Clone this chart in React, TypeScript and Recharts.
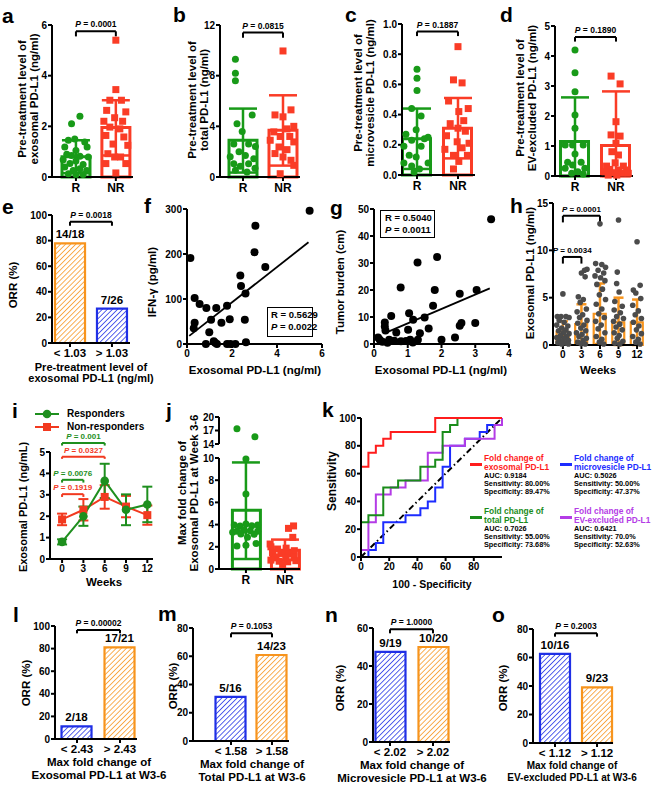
import React from "react";
import { ComposedChart, Bar, Scatter, Line, XAxis, YAxis, ReferenceLine, ErrorBar, Cell, LabelList } from "recharts";

type Pt = [number, number];

const GREEN = "#189a18";
const RED = "#fa3c26";
const ORANGE = "#f7941d";
const BLUE = "#1f2fe6";
const GRAY = "#4b4b4b";
const ROC_RED = "#ff1c1c";
const ROC_GREEN = "#1a8c1a";
const ROC_BLUE = "#1c2cff";
const ROC_PURPLE = "#b43ce6";
const I_GREEN = "#1e8f1e";
const I_RED = "#f2391f";

const groups = ["R", "NR"];

// a: exosomal PD-L1 before treatment
const aR: Pt[] = [[1.1, 2.4], [0.89, 2.1], [0.81, 1.45], [0.97, 1.5], [1.22, 1.38], [0.72, 1.18], [1.28, 1.18], [1.0, 1.05], [0.77, 0.9], [0.89, 0.85], [1.1, 0.82], [1.31, 0.79], [0.68, 0.68], [1.0, 0.63], [0.85, 0.53], [1.18, 0.49], [0.72, 0.39], [1.1, 0.33], [0.93, 0.26], [1.27, 0.26], [0.81, 0.13], [1.0, 0.1], [1.18, 0.1]];
const aNR: Pt[] = [[2.0, 5.4], [2.0, 3.45], [1.85, 3.03], [2.14, 3.03], [1.77, 2.63], [2.25, 2.57], [1.97, 2.34], [1.7, 2.2], [2.17, 2.2], [1.85, 1.97], [2.1, 1.9], [1.75, 1.64], [2.2, 1.58], [1.93, 1.3], [2.3, 1.25], [1.8, 0.92], [2.12, 0.79], [1.97, 0.79], [1.75, 0.53], [2.25, 0.53], [2.0, 0.16]];
const aMean = [0.8, 1.95];
const aErr: Pt[] = [[0.65, 0.65], [1.1, 1.08]];

// b: total PD-L1
const bR: Pt[] = [[0.81, 9.3], [0.81, 8.2], [0.81, 7.6], [1.23, 4.9], [0.85, 4.2], [0.98, 3.6], [0.77, 2.6], [1.14, 2.6], [1.31, 2.4], [0.9, 2.0], [0.68, 1.6], [1.06, 1.7], [1.27, 1.45], [0.77, 1.05], [0.93, 0.85], [1.14, 1.05], [1.3, 0.7], [0.81, 0.53], [1.1, 0.4]];
const bNR: Pt[] = [[2.0, 9.95], [2.2, 5.3], [1.8, 4.9], [2.0, 4.75], [2.27, 4.0], [2.1, 3.8], [1.77, 3.56], [1.93, 3.2], [2.17, 3.2], [1.68, 2.9], [2.27, 2.77], [1.9, 2.37], [2.1, 2.16], [1.8, 1.85], [2.0, 1.58], [2.2, 1.32], [2.27, 0.92], [1.93, 0.26]];
const bMean = [2.9, 3.7];
const bErr: Pt[] = [[2.55, 2.5], [2.8, 2.75]];

// c: microvesicle PD-L1
const cR: Pt[] = [[1.0, 0.7], [1.0, 0.64], [1.0, 0.56], [0.87, 0.44], [1.1, 0.39], [0.98, 0.3], [0.73, 0.27], [1.27, 0.25], [1.18, 0.24], [0.87, 0.23], [0.68, 0.19], [1.1, 0.19], [0.81, 0.13], [0.98, 0.12], [1.27, 0.08], [0.68, 0.08], [0.87, 0.06], [1.06, 0.04], [0.93, 0.02]];
const cNR: Pt[] = [[2.0, 0.85], [1.89, 0.63], [2.1, 0.61], [1.77, 0.49], [2.25, 0.44], [2.02, 0.42], [2.14, 0.36], [1.81, 0.34], [2.0, 0.31], [2.18, 0.29], [1.72, 0.26], [1.98, 0.22], [2.27, 0.21], [1.68, 0.17], [2.1, 0.18], [1.89, 0.13], [2.23, 0.13], [2.02, 0.09], [1.89, 0.04]];
const cMean = [0.24, 0.31];
const cErr: Pt[] = [[0.2, 0.2], [0.2, 0.2]];

// d: EV-excluded PD-L1
const dR: Pt[] = [[1.0, 4.2], [1.0, 3.44], [1.0, 2.81], [1.0, 2.03], [1.0, 1.59], [0.94, 1.03], [1.2, 1.03], [0.76, 1.03], [1.0, 0.73], [0.82, 0.46], [1.15, 0.46], [0.94, 0.37], [0.76, 0.26], [1.24, 0.26], [1.07, 0.14], [0.92, 0.09], [1.2, 0.07]];
const dNR: Pt[] = [[1.88, 3.33], [2.1, 3.07], [2.0, 1.81], [1.88, 1.37], [2.1, 1.33], [2.0, 1.09], [1.9, 0.81], [2.06, 0.7], [1.98, 0.44], [1.77, 0.33], [2.18, 0.33], [1.85, 0.22], [2.06, 0.2], [2.26, 0.2], [1.73, 0.14], [1.93, 0.11], [2.14, 0.09], [2.3, 0.09], [2.02, 0.03], [1.81, 0.03]];
const dMean = [1.15, 1.02];
const dErr: Pt[] = [[1.15, 1.47], [1.02, 1.8]];

// ORR panels
const eCats = ["< 1.03", "> 1.03"];
const eORR = [77.8, 26.9];
const eFrac = ["14/18", "7/26"];
const lCats = ["< 2.43", "> 2.43"];
const lORR = [11.1, 81.0];
const lFrac = ["2/18", "17/21"];
const mCats = ["< 1.58", "> 1.58"];
const mORR = [31.3, 60.9];
const mFrac = ["5/16", "14/23"];
const nCats = ["< 2.02", "> 2.02"];
const nORR = [47.4, 50.0];
const nFrac = ["9/19", "10/20"];
const oCats = ["< 1.12", "> 1.12"];
const oORR = [62.5, 39.1];
const oFrac = ["10/16", "9/23"];

// f: IFN-gamma vs exosomal PD-L1
const fPts: Pt[] = [[0.15, 191], [0.34, 102], [0.34, 47], [0.3, 35], [0.56, 89], [0.86, 80], [0.84, 0], [1.07, 54], [0.99, 26], [1.19, 6], [1.33, 0], [1.3, 80], [1.53, 47], [1.78, 85], [1.9, 55], [1.78, 0], [1.93, 0], [2.15, 0], [2.37, 152], [2.4, 129], [2.6, 112], [2.57, 54], [2.62, 4], [3.04, 263], [3.0, 204], [3.48, 171], [5.45, 296], [1.25, 3]];
const fFit: Pt[] = [[0.1, 18], [5.4, 226]];

// g: tumor burden vs exosomal PD-L1
const gPts: Pt[] = [[3.47, 46.2], [1.87, 32.2], [1.29, 30.2], [0.79, 20.9], [1.8, 20], [3.04, 20], [2.54, 18.6], [1.75, 14.2], [0.51, 10.4], [1.04, 11.4], [1.16, 9], [1.5, 9.8], [1.62, 5.7], [2.59, 7.8], [2.54, 6.8], [3.0, 7.8], [0.32, 8], [0.32, 6.5], [0.34, 5], [0.66, 4.3], [1.01, 5.3], [1.36, 4], [0.12, 2.4], [0.17, 1.6], [0.45, 1.6], [0.6, 1.2], [0.8, 1], [0.95, 1.1], [1.07, 1.6], [2.0, 1.6], [2.4, 2.4], [1.3, 1.6], [0.25, 0.8], [0.4, 0.5], [1.15, 0.6]];
const gFit: Pt[] = [[0.32, 4], [3.43, 20.6]];

// h: exosomal PD-L1 over weeks
const hWeeks = [0, 3, 6, 9, 12];
const hMean = [1.4, 2.2, 3.3, 2.4, 2.4];
const hErr: Pt[] = [[1.1, 1.1], [2.1, 2.1], [3.2, 3.2], [2.4, 2.6], [2.4, 2.4]];
const hW0: Pt[] = [[0, 5.4], [-0.9, 3.0], [-0.3, 3.0], [0.5, 3.0], [1.0, 2.9], [-0.6, 2.6], [0.2, 2.4], [-1.0, 2.1], [0.8, 2.0], [-0.2, 1.8], [0.5, 1.6], [-0.7, 1.5], [0.1, 1.3], [1.0, 1.2], [-0.4, 1.0], [0.6, 0.9], [-1.0, 0.8], [0.2, 0.7], [-0.5, 0.5], [0.9, 0.5], [0.0, 0.35], [-0.8, 0.25], [0.5, 0.2], [-0.2, 0.1], [0.9, 0.1]];
const hW3: Pt[] = [[3.9, 8.0], [3.5, 7.9], [3.0, 7.6], [3.6, 7.2], [2.5, 5.1], [3.3, 4.8], [2.8, 4.5], [3.8, 3.8], [2.3, 3.5], [3.2, 3.2], [2.7, 2.9], [3.9, 2.6], [2.4, 2.3], [3.4, 2.1], [2.9, 1.8], [3.7, 1.5], [2.2, 1.3], [3.1, 1.1], [2.6, 0.9], [3.8, 0.7], [3.3, 0.5], [2.4, 0.3], [2.9, 0.15], [3.6, 0.1]];
const hW6: Pt[] = [[6.0, 12.8], [5.3, 8.6], [6.3, 8.5], [6.9, 8.2], [5.7, 7.9], [6.6, 7.6], [5.2, 7.3], [6.1, 7.1], [6.8, 6.8], [5.5, 6.4], [6.4, 5.9], [5.9, 5.3], [6.9, 4.8], [5.4, 4.3], [6.3, 3.8], [5.8, 3.3], [6.7, 2.9], [5.3, 2.5], [6.2, 2.1], [5.7, 1.7], [6.8, 1.3], [5.4, 0.9], [6.3, 0.6], [5.9, 0.3], [6.6, 0.1]];
const hW9: Pt[] = [[9.0, 13.2], [8.8, 7.7], [8.7, 6.5], [9.1, 5.6], [8.4, 4.6], [9.6, 4.1], [8.3, 3.7], [9.3, 3.4], [8.7, 3.0], [9.8, 2.8], [8.2, 2.5], [9.2, 2.2], [8.6, 1.9], [9.6, 1.6], [8.3, 1.3], [9.1, 1.0], [8.8, 0.7], [9.7, 0.4], [8.4, 0.2], [9.2, 0.1]];
const hW12: Pt[] = [[12.0, 10.9], [12.5, 6.3], [11.4, 5.8], [11.8, 5.5], [12.6, 4.9], [11.3, 4.2], [12.2, 3.6], [11.7, 3.2], [12.7, 2.8], [11.4, 2.4], [12.3, 2.0], [11.9, 1.6], [12.7, 1.2], [11.3, 0.9], [12.2, 0.6], [11.8, 0.3], [12.5, 0.1]];

// i: time course responders / non-responders
const iWeeks = [0, 3, 6, 9, 12];
const iRespMean = [0.8, 2.0, 3.65, 2.3, 2.55];
const iRespSD = [0.12, 0.45, 0.8, 0.72, 0.83];
const iNonMean = [1.85, 2.3, 2.9, 2.45, 2.05];
const iNonSD = [0.27, 0.5, 0.55, 0.5, 0.45];

// j: max fold change week 3-6
const jR: Pt[] = [[1.0, 9.9], [1.0, 6.75], [0.7, 3.96], [0.85, 3.88], [1.0, 4.05], [1.15, 3.9], [1.3, 3.96], [0.77, 3.4], [0.94, 3.5], [1.11, 3.45], [1.3, 3.4], [0.66, 3.3], [0.87, 3.15], [1.21, 3.12], [1.04, 2.85], [0.77, 2.07], [1.0, 2.15], [1.26, 2.3]];
const jRHigh: Pt[] = [[0.77, 17.4], [1.23, 15.6]];
const jNR: Pt[] = [[2.22, 3.88], [2.09, 3.66], [2.2, 2.85], [1.62, 2.25], [1.64, 2.0], [1.81, 1.8], [2.03, 1.88], [2.24, 1.65], [1.68, 1.45], [1.9, 1.4], [2.11, 1.35], [1.77, 1.1], [2.02, 1.0], [2.24, 1.05], [1.64, 0.8], [1.85, 0.7], [2.07, 0.65], [2.28, 0.75], [1.94, 0.4]];
const jMean = [5.3, 1.7];
const jErr: Pt[] = [[4.4, 4.3], [0.9, 0.95]];

// k: ROC curves
const rocRed: Pt[] = [[0, 0], [0, 65], [5.26, 75], [10.53, 80], [15.79, 85], [21.05, 90], [52.63, 100], [100, 100]];
const rocGreen: Pt[] = [[0, 0], [0, 25], [5.26, 30], [15.79, 50], [26.32, 55], [42.11, 65], [52.63, 70], [57.89, 90], [63.16, 95], [68.42, 100], [100, 100]];
const rocBlue: Pt[] = [[0, 0], [5.26, 5], [10.53, 10], [15.79, 25], [31.58, 30], [42.11, 35], [47.37, 40], [52.63, 50], [57.89, 65], [63.16, 80], [73.68, 85], [84.21, 90], [89.47, 95], [100, 100]];
const rocPurple: Pt[] = [[0, 0], [0, 5], [5.26, 25], [10.53, 45], [21.05, 50], [31.58, 55], [47.37, 75], [57.89, 80], [73.68, 85], [94.74, 95], [100, 100]];
const rocRef: Pt[] = [[0, 0], [100, 100]];

const FONT = '"Liberation Sans", Arial, Helvetica, sans-serif';
const AX = { stroke: "#000", strokeWidth: 2 };
const TICK = { fontSize: 10, fontWeight: 700, fill: "#000" };
const TICK_BIG = { fontSize: 12, fontWeight: 700, fill: "#000" };
const TICK_MID = { fontSize: 11.5, fontWeight: 700, fill: "#000" };

const rows = (pts: Pt[]) => pts.map(([x, y]) => ({ x, y }));

function Panel({ box, xDom, yDom, xTicks, yTicks, xFmt, yFmt, data, hideX, xTick = TICK, children }: any) {
  const [x0, y0, x1, y1] = box;
  const L = 46, T = 34, R = 16, B = 26;
  const w = x1 - x0 + L + R;
  const h = y1 - y0 + T + B;
  return (
    <div style={{ position: "absolute", left: x0 - L, top: y0 - T, width: w, height: h }}>
      <ComposedChart width={w} height={h} data={data} margin={{ top: T, right: R, bottom: hideX ? B : 0, left: 0 }}>
        <XAxis xAxisId={0} type="number" dataKey="x" domain={xDom} ticks={xTicks} tickFormatter={xFmt} hide={hideX} height={B}
          axisLine={AX} tickLine={AX} tick={xTick} tickSize={4} interval={0} />
        <XAxis xAxisId="d" type="number" dataKey="x" domain={xDom} hide />
        <YAxis type="number" dataKey="y" domain={yDom} ticks={yTicks} tickFormatter={yFmt} width={L}
          axisLine={AX} tickLine={AX} tick={TICK} tickSize={4} tickMargin={1} interval={0} />
        {children}
      </ComposedChart>
    </div>
  );
}

const pLabel = (txt: string, color: string, fs: number) => (props: any) => {
  const vb = props.viewBox || {};
  const cx = (vb.x || 0) + (vb.width || 0) / 2;
  return (
    <text x={cx} y={(vb.y || 0) - 4} textAnchor="middle" fontSize={fs} fontWeight="bold" fill={color}>
      <tspan fontStyle="italic">P</tspan> = {txt}
    </text>
  );
};

const bracket = (xa: number, xb: number, y: number, drop: number, p: string, key: string, color = "#000", fs = 8.5) => [
  <ReferenceLine key={key + "h"} segment={[{ x: xa, y }, { x: xb, y }]} stroke={color} strokeWidth={2} ifOverflow="visible" label={pLabel(p, color, fs)} />,
  <ReferenceLine key={key + "l"} segment={[{ x: xa, y }, { x: xa, y: y - drop }]} stroke={color} strokeWidth={2} ifOverflow="visible" />,
  <ReferenceLine key={key + "r"} segment={[{ x: xb, y }, { x: xb, y: y - drop }]} stroke={color} strokeWidth={2} ifOverflow="visible" />,
];

const dots = (pts: Pt[], color: string, shape: string, r: number, key: string) => (
  <Scatter key={key} xAxisId="d" data={rows(pts)} dataKey="y" isAnimationActive={false}
    shape={(p: any) => shape === "circle"
      ? <circle cx={p.cx} cy={p.cy} r={r} fill={color} />
      : <rect x={p.cx - r} y={p.cy - r} width={2 * r} height={2 * r} fill={color} />} />
);

const errs = (xs: number[], means: number[], e: Pt[], color: string, w: number, key: string) => (
  <Scatter key={key} xAxisId="d" data={xs.map((x, i) => ({ x, y: means[i], e: e[i] }))} dataKey="y" isAnimationActive={false} shape={() => <g />}>
    <ErrorBar dataKey="e" direction="y" width={w} stroke={color} strokeWidth={2.5} />
  </Scatter>
);

const hollowBars = (colors: string[], size: number, sw: number) => (
  <Bar key="bars" dataKey="y" barSize={size} isAnimationActive={false}>
    {colors.map((c, i) => <Cell key={i} fill="none" stroke={c} strokeWidth={sw} />)}
  </Bar>
);

function DotBar({ box, xDom, yDom, yTicks, yFmt, means, err, r, nr, br }: any) {
  return (
    <Panel box={box} xDom={xDom} yDom={yDom} yTicks={yTicks} yFmt={yFmt} xTicks={[1, 2]} xFmt={(v: number) => groups[v - 1]}
      xTick={TICK_BIG} data={means.map((y: number, i: number) => ({ x: i + 1, y }))}>
      {[
        hollowBars([GREEN, RED], 28, 3),
        errs([1], [means[0]], [err[0]], GREEN, 14, "e1"),
        errs([2], [means[1]], [err[1]], RED, 14, "e2"),
        dots(r, GREEN, "circle", 3.5, "d1"),
        dots(nr, RED, "square", 3.5, "d2"),
        ...(br ? bracket(1, 2, br[0], br[1], br[2], "br") : []),
      ]}
    </Panel>
  );
}

function OrrPanel({ box, xDom, yMax, cats, vals, fracs, fills, strokes, br }: any) {
  const yTicks = [];
  for (let t = 0; t <= yMax; t += 20) yTicks.push(t);
  return (
    <Panel box={box} xDom={xDom} yDom={[0, yMax]} yTicks={yTicks} xTicks={[1, 2]} xFmt={(v: number) => cats[v - 1]}
      xTick={TICK_MID} data={vals.map((y: number, i: number) => ({ x: i + 1, y, lab: fracs[i] }))}>
      {[
        <Bar key="b" dataKey="y" barSize={30} isAnimationActive={false}>
          {fills.map((f: string, i: number) => <Cell key={i} fill={f} stroke={strokes[i]} strokeWidth={2.2} />)}
          <LabelList dataKey="lab" position="top" offset={5} fontSize={11.5} fontWeight={700} fill="#000" />
        </Bar>,
        ...bracket(1, 2, br[0], br[1], br[2], "br"),
      ]}
    </Panel>
  );
}

function Txt({ x, y, lines, size = 11.5, lh = 12, rot = false, color = "#000", start = false }: any) {
  return (
    <div style={{
      position: "absolute", left: x, top: y, whiteSpace: "nowrap", fontSize: size, lineHeight: `${lh}px`, fontWeight: 700, color,
      textAlign: start ? "left" : "center",
      transform: `translate(${start ? "0" : "-50%"}, -50%)${rot ? " rotate(-90deg)" : ""}`,
    }}>
      {lines.map((l: any, i: number) => <div key={i}>{l}</div>)}
    </div>
  );
}

const letters: [string, number, number][] = [
  ["a", 2, 5], ["b", 173, 4], ["c", 345, 4], ["d", 500, 4],
  ["e", 2, 196], ["f", 144, 195], ["g", 330, 197], ["h", 510, 195],
  ["i", 12, 400], ["j", 166, 400], ["k", 322, 399],
  ["l", 13, 604], ["m", 158, 603], ["n", 325, 604], ["o", 492, 604],
];

const P = <i>P</i>;

function RocKey({ x, y, color, l1, l2, auc, sens, spec }: any) {
  return (
    <>
      <div style={{ position: "absolute", left: x - 14, top: y + 5, width: 12, height: 3, background: color }} />
      <Txt x={x} y={y} lines={[l1]} size={8.4} lh={9} color={color} start />
      <Txt x={x} y={y + 9} lines={[l2]} size={8.4} lh={9} color={color} start />
      <Txt x={x} y={y + 18} lines={[auc]} size={7.3} lh={8} start />
      <Txt x={x} y={y + 26} lines={[sens]} size={7.3} lh={8} start />
      <Txt x={x} y={y + 34} lines={[spec]} size={7.3} lh={8} start />
    </>
  );
}

export default function App() {
  const hatch = (id: string, color: string) => (
    <pattern id={id} patternUnits="userSpaceOnUse" width={3.6} height={3.6} patternTransform="rotate(45)">
      <rect width={3.6} height={3.6} fill="#fff" />
      <line x1={0} y1={0} x2={0} y2={3.6} stroke={color} strokeWidth={1.5} />
    </pattern>
  );
  const hO = "url(#hO)";
  const hB = "url(#hB)";
  return (
    <div style={{ position: "absolute", left: 0, top: 0, width: 654, height: 789, overflow: "hidden", background: "#fff", fontFamily: FONT }}>
      <svg width={0} height={0} style={{ position: "absolute" }}>
        <defs>
          {hatch("hO", ORANGE)}
          {hatch("hB", BLUE)}
        </defs>
      </svg>

      {letters.map(([t, x, y]) => (
        <div key={t} style={{ position: "absolute", left: x, top: y, fontSize: 21, lineHeight: "21px", fontWeight: 700 }}>{t}</div>
      ))}

      {/* row 1 */}
      <DotBar box={[52, 25, 133, 177]} xDom={[0.4, 2.43]} yDom={[0, 6]} yTicks={[0, 2, 4, 6]} means={aMean} err={aErr} r={aR} nr={aNR} br={[5.75, 0.2, "0.0001"]} />
      <DotBar box={[220, 25, 300, 177]} xDom={[0.425, 2.425]} yDom={[0, 12]} yTicks={[0, 4, 8, 12]} means={bMean} err={bErr} r={bR} nr={bNR} br={[11.4, 0.4, "0.0815"]} />
      <DotBar box={[402, 24, 475, 175]} xDom={[0.634, 2.415]} yDom={[0, 1]} yTicks={[0, 0.2, 0.4, 0.6, 0.8, 1.0]} yFmt={(v: number) => v.toFixed(1)} means={cMean} err={cErr} r={cR} nr={cNR} br={[0.95, 0.03, "0.1887"]} />
      <DotBar box={[555, 26, 633, 176]} xDom={[0.512, 2.415]} yDom={[0, 5]} yTicks={[0, 1, 2, 3, 4, 5]} means={dMean} err={dErr} r={dR} nr={dNR} br={[4.63, 0.15, "0.1890"]} />
      <Txt x={27.5} y={99} rot lines={["Pre-treatment level of", "exosomal PD-L1 (ng/ml)"]} />
      <Txt x={198} y={100} rot lines={["Pre-treatment level of", "total PD-L1 (ng/ml)"]} />
      <Txt x={364} y={93} rot lines={["Pre-treatment level of", "microvesicle PD-L1 (ng/ml)"]} />
      <Txt x={526} y={98} rot lines={["Pre-treatment level of", "EV-excluded PD-L1 (ng/ml)"]} />

      {/* row 2 */}
      <OrrPanel box={[52, 215, 130, 343]} xDom={[0.571, 2.43]} yMax={100} cats={eCats} vals={eORR} fracs={eFrac} fills={[hO, hB]} strokes={[ORANGE, BLUE]} br={[94.8, 3.2, "0.0018"]} />
      <Txt x={13} y={285} rot lines={["ORR (%)"]} />
      <Txt x={91} y={373} lh={11} lines={["Pre-treatment level of", "exosomal PD-L1 (ng/ml)"]} size={11} />

      <Panel box={[187, 209, 322, 344]} xDom={[0, 6]} yDom={[0, 300]} xTicks={[0, 2, 4, 6]} yTicks={[0, 100, 200, 300]}>
        {[
          <Line key="fit" data={rows(fFit)} dataKey="y" stroke="#000" strokeWidth={1.8} dot={false} isAnimationActive={false} />,
          dots(fPts, "#000", "circle", 4, "f"),
        ]}
      </Panel>
      <Txt x={152} y={282} rot lines={["IFN-γ (pg/ml)"]} />
      <Txt x={255} y={370} lines={["Exosomal PD-L1 (ng/ml)"]} />
      <div style={{ position: "absolute", left: 267, top: 307, width: 44, height: 28, border: "1.5px solid #000", background: "#fff" }} />
      <Txt x={271} y={315} start size={9.5} lines={["R = 0.5629"]} />
      <Txt x={271} y={327} start size={9.5} lines={[<span key="p">{P} = 0.0022</span>]} />

      <Panel box={[374, 209, 509, 344]} xDom={[0, 4]} yDom={[0, 50]} xTicks={[0, 1, 2, 3, 4]} yTicks={[0, 10, 20, 30, 40, 50]}>
        {[
          <Line key="fit" data={rows(gFit)} dataKey="y" stroke="#000" strokeWidth={1.8} dot={false} isAnimationActive={false} />,
          dots(gPts, "#000", "circle", 4, "g"),
        ]}
      </Panel>
      <div style={{ position: "absolute", left: 380, top: 210, width: 53, height: 26, border: "1.5px solid #000", background: "#fff" }} />
      <Txt x={385} y={218} start size={9.5} lines={["R = 0.5040"]} />
      <Txt x={385} y={230} start size={9.5} lines={[<span key="p">{P} = 0.0011</span>]} />
      <Txt x={340} y={282} rot lines={["Tumor burden (cm)"]} />
      <Txt x={441} y={370} lines={["Exosomal PD-L1 (ng/ml)"]} />

      <Panel box={[553, 203, 642, 345]} xDom={[-1.6, 12.8]} yDom={[0, 15]} xTicks={hWeeks} yTicks={[0, 5, 10, 15]}
        data={hWeeks.map((x, i) => ({ x, y: hMean[i] }))}>
        {[
          dots(hW0, GRAY, "circle", 2.8, "w0"),
          dots(hW3, GRAY, "circle", 2.8, "w3"),
          dots(hW6, GRAY, "circle", 2.8, "w6"),
          dots(hW9, GRAY, "circle", 2.8, "w9"),
          dots(hW12, GRAY, "circle", 2.8, "w12"),
          hollowBars(hWeeks.map(() => ORANGE), 12, 2.2),
          errs(hWeeks, hMean, hErr, ORANGE, 5, "he"),
          ...bracket(0, 6, 13.65, 0.7, "0.0001", "b1", "#000", 8),
          ...bracket(0, 3, 9.3, 0.7, "0.0034", "b2", "#000", 8),
        ]}
      </Panel>
      <Txt x={530} y={273} rot lines={["Exosomal PD-L1 (ng/ml)"]} />
      <Txt x={598} y={370} lines={["Weeks"]} />

      {/* row 3 */}
      <Panel box={[50, 452, 153, 559]} xDom={[-1.7, 12.8]} yDom={[0, 5]} xTicks={iWeeks} yTicks={[0, 1, 2, 3, 4, 5]}>
        {[
          <Line key="non" data={iWeeks.map((x, i) => ({ x, y: iNonMean[i], e: iNonSD[i] }))} dataKey="y" stroke={I_RED} strokeWidth={2}
            isAnimationActive={false} dot={(p: any) => <rect key={p.index} x={p.cx - 4} y={p.cy - 4} width={8} height={8} fill={I_RED} />}>
            <ErrorBar dataKey="e" direction="y" width={5} stroke={I_RED} strokeWidth={2} />
          </Line>,
          <Line key="resp" data={iWeeks.map((x, i) => ({ x, y: iRespMean[i], e: iRespSD[i] }))} dataKey="y" stroke={I_GREEN} strokeWidth={2}
            isAnimationActive={false} dot={(p: any) => <circle key={p.index} cx={p.cx} cy={p.cy} r={4.3} fill={I_GREEN} />}>
            <ErrorBar dataKey="e" direction="y" width={5} stroke={I_GREEN} strokeWidth={2} />
          </Line>,
          ...bracket(0, 6, 5.42, 0.12, "0.001", "g1", I_GREEN, 8),
          ...bracket(0, 6, 4.78, 0.1, "0.0327", "r1", I_RED, 8),
          ...bracket(0, 3, 3.7, 0.13, "0.0076", "g2", I_GREEN, 8),
          ...bracket(0, 3, 3.03, 0.13, "0.1919", "r2", I_RED, 8),
        ]}
      </Panel>
      <svg style={{ position: "absolute", left: 33, top: 406 }} width={28} height={28}>
        <line x1={2} y1={8} x2={26} y2={8} stroke={I_GREEN} strokeWidth={2} />
        <circle cx={14} cy={8} r={4.3} fill={I_GREEN} />
        <line x1={2} y1={21} x2={26} y2={21} stroke={I_RED} strokeWidth={2} />
        <rect x={10} y={17} width={8} height={8} fill={I_RED} />
      </svg>
      <Txt x={67} y={414} start size={10} lines={["Responders"]} />
      <Txt x={67} y={427} start size={10} lines={["Non-responders"]} />
      <Txt x={23} y={507} rot lines={["Exosomal PD-L1 (ng/mL)"]} size={11} />
      <Txt x={104} y={582} lines={["Weeks"]} />

      <Panel box={[219, 417, 300, 444]} xDom={[0.31, 2.385]} yDom={[14, 20]} yTicks={[14, 17, 20]} hideX>
        {[
          dots(jRHigh, GREEN, "circle", 3.5, "jh"),
          ...bracket(1, 2, 19.1, 0.7, "0.00001", "jb"),
        ]}
      </Panel>
      <DotBar box={[219, 458, 300, 569]} xDom={[0.31, 2.385]} yDom={[0, 10]} yTicks={[0, 2, 4, 6, 8, 10]} means={jMean} err={jErr} r={jR} nr={jNR} />
      <Txt x={188} y={493} rot lines={["Max fold change of", "Exosomal PD-L1 at Week 3-6"]} />

      <Panel box={[361, 418, 502, 557]} xDom={[0, 100]} yDom={[0, 100]} xTicks={[0, 20, 40, 60, 80]} yTicks={[0, 20, 40, 60, 80, 100]}>
        {[
          <Line key="ref" data={rows(rocRef)} dataKey="y" stroke="#000" strokeWidth={2} strokeDasharray="6 3 1.5 3" dot={false} isAnimationActive={false} />,
          <Line key="blue" type="stepAfter" data={rows(rocBlue)} dataKey="y" stroke={ROC_BLUE} strokeWidth={2} dot={false} isAnimationActive={false} />,
          <Line key="purple" type="stepAfter" data={rows(rocPurple)} dataKey="y" stroke={ROC_PURPLE} strokeWidth={2} dot={false} isAnimationActive={false} />,
          <Line key="green" type="stepAfter" data={rows(rocGreen)} dataKey="y" stroke={ROC_GREEN} strokeWidth={2} dot={false} isAnimationActive={false} />,
          <Line key="red" type="stepAfter" data={rows(rocRed)} dataKey="y" stroke={ROC_RED} strokeWidth={2} dot={false} isAnimationActive={false} />,
        ]}
      </Panel>
      <Txt x={332} y={481} rot lines={["Sensitivity"]} size={12} />
      <Txt x={432} y={584} lines={["100 - Specificity"]} size={10.5} />
      <RocKey x={484} y={458} color={ROC_RED} l1="Fold change of" l2="exosomal PD-L1" auc="AUC: 0.9184" sens="Sensitivity: 80.00%" spec="Specificity: 89.47%" />
      <RocKey x={574} y={458} color={ROC_BLUE} l1="Fold change of" l2="microvesicle PD-L1" auc="AUC: 0.5026" sens="Sensitivity: 50.00%" spec="Specificity: 47.37%" />
      <RocKey x={484} y={511} color={ROC_GREEN} l1="Fold change of" l2="total PD-L1" auc="AUC: 0.7026" sens="Sensitivity: 55.00%" spec="Specificity: 73.68%" />
      <RocKey x={574} y={511} color={ROC_PURPLE} l1="Fold change of" l2="EV-excluded PD-L1" auc="AUC: 0.6421" sens="Sensitivity: 70.0%" spec="Specificity: 52.63%" />

      {/* row 4 */}
      <OrrPanel box={[55, 626, 137, 739]} xDom={[0.488, 2.395]} yMax={100} cats={lCats} vals={lORR} fracs={lFrac} fills={[hB, hO]} strokes={[BLUE, ORANGE]} br={[96.5, 3, "0.00002"]} />
      <Txt x={26} y={683} rot lines={["ORR (%)"]} />
      <Txt x={99} y={768} lh={12.5} lines={["Max fold change of", "Exosomal PD-L1 at W3-6"]} />

      <OrrPanel box={[193, 628, 289, 741]} xDom={[0.073, 2.415]} yMax={80} cats={mCats} vals={mORR} fracs={mFrac} fills={[hB, hO]} strokes={[BLUE, ORANGE]} br={[76.2, 2.8, "0.1053"]} />
      <Txt x={173} y={686} rot lines={["ORR (%)"]} />
      <Txt x={252} y={770} lh={12.5} lines={["Max fold change of", "Total PD-L1 at W3-6"]} />

      <OrrPanel box={[373, 628, 450, 742]} xDom={[0.605, 2.395]} yMax={60} cats={nCats} vals={nORR} fracs={nFrac} fills={[hB, hO]} strokes={[BLUE, ORANGE]} br={[59.3, 2.1, "1.0000"]} />
      <Txt x={340} y={688} rot lines={["ORR (%)"]} />
      <Txt x={412} y={771} lh={12.5} lines={["Max fold change of", "Microvesicle PD-L1 at W3-6"]} />

      <OrrPanel box={[533, 629, 613, 743]} xDom={[0.476, 2.38]} yMax={80} cats={oCats} vals={oORR} fracs={oFrac} fills={[hB, hO]} strokes={[BLUE, ORANGE]} br={[77, 2.4, "0.2003"]} />
      <Txt x={503} y={688} rot lines={["ORR (%)"]} />
      <Txt x={572} y={772} lh={12} size={10} lines={["Max fold change of", "EV-excluded PD-L1 at W3-6"]} />
    </div>
  );
}
